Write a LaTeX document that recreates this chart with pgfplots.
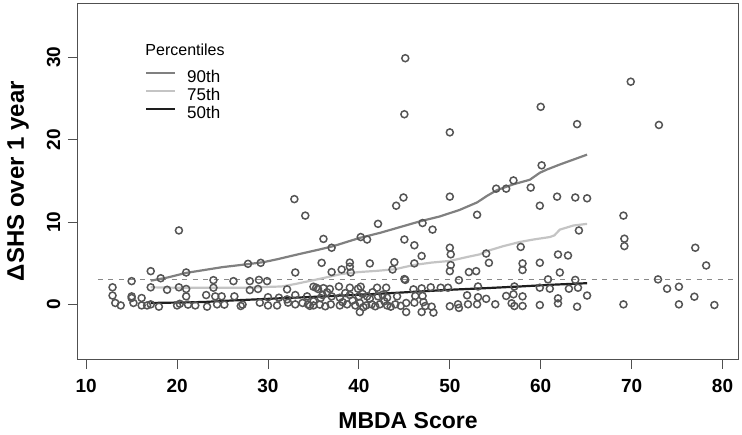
\documentclass[border=0pt]{standalone}
\usepackage{fontspec}
\setmainfont{Liberation Sans}
\usepackage{pgfplots}
\pgfplotsset{compat=1.18}
\definecolor{ptc}{HTML}{555555}
\definecolor{boxc}{HTML}{505050}
\definecolor{p90}{HTML}{808080}
\definecolor{p75}{HTML}{C4C4C4}
\definecolor{p50}{HTML}{1E1E1E}
\definecolor{dsh}{HTML}{888888}
\begin{document}
\begin{tikzpicture}
\useasboundingbox (0,0) rectangle (742pt,434pt);
\begin{axis}[
  at={(78pt,75pt)}, anchor=south west,
  scale only axis, width=660pt, height=356pt,
  xmin=9.1, xmax=81.7, ymin=-6.6, ymax=36.6,
  xtick={10,20,...,80}, ytick={0,10,20,30},
  tick align=outside, major tick length=10pt,
  xtick pos=left, ytick pos=left,
  axis line style={draw=boxc, line width=1pt},
  tick style={draw=boxc, line width=1pt},
  /pgf/number format/assume math mode=true,
  ticklabel style={font=\fontsize{19}{20}\selectfont\bfseries, inner sep=0pt},
  yticklabel style={rotate=90, anchor=south},
  xticklabel style={anchor=north},
  xticklabel shift=10pt, yticklabel shift=7.4pt,
  xlabel={MBDA Score}, ylabel={ΔSHS over 1 year},
  xlabel style={at={(axis description cs:0.5,-0.1966)}, anchor=base, font=\fontsize{23}{24}\selectfont\bfseries},
  ylabel style={at={(axis description cs:-0.0909,0.5)}, anchor=center, font=\fontsize{24}{26}\selectfont\bfseries},
  legend style={draw=none, fill=none, anchor=north west, at={(axis cs:16.45,28.46)},
    font=\fontsize{17}{18}\selectfont, inner sep=0pt, row sep=3pt, column sep=11pt,
    nodes={inner sep=0pt, text height=12pt, text depth=3pt}},
  legend cell align=left,
  legend image code/.code={\draw[#1] (0pt,4.5pt) -- (29pt,4.5pt);},
  clip=false,
]
\addplot[only marks, mark=o, mark size=3.5pt, mark options={line width=1.5pt, draw=ptc}, forget plot] table {
x y
12.9 2.1
12.9 1.1
13.2 0.2
13.8 -0.1
15 2.85
15 1.0
15 0.8
15.2 0.2
16.1 0.8
16.1 -0.1
16.7 -0.1
17.1 4.06
17.1 2.1
17.1 0.03
18.2 3.2
18 -0.25
18.9 1.8
20.2 9.0
20.2 2.1
20 -0.1
20.3 0.1
21 3.9
21 1.9
21 1.0
21.2 0
22 -0.1
23.2 1.16
23.3 -0.25
24 2.97
24 2.05
24.2 1.0
24.9 1.0
24.4 0.03
25.2 0
26.2 2.85
26.3 1.0
27 -0.17
27.2 0
27.8 4.95
28 2.85
28 1.76
29.2 5.07
29 3.0
28.9 1.9
29.1 0.23
29.9 2.85
30 0.9
30 -0.1
31.2 0.84
31 -0.1
32.1 1.85
32.1 0.64
32.2 0.24
32.9 12.8
33 3.9
33 1.16
33 0.03
33.8 0.2
34.1 10.8
34.3 1.0
35 2.17
35.3 2.05
35.5 1.9
35.9 5.07
36.1 7.97
36.1 2.0
36.8 1.9
37 6.9
37 3.95
38.1 4.26
39 5.1
39 4.6
39.1 3.9
39 2.05
39.9 1.93
40.2 2.17
40.2 8.2
40.9 7.9
41.2 5.0
42.1 9.8
42 2.05
43 2.05
43.9 5.15
43.7 4.26
44.1 12.0
44.9 13.0
45 7.9
45 3.1
45.1 3.0
45 23.1
45.1 29.9
37.8 2.2
36 1.16
37 1.0
37.9 0.84
39 1.16
40 1.0
40.9 1.0
41.2 0.7
42.1 1.0
43.1 0.84
44.2 1.0
35 0.4
34.4 0.03
35 -0.1
35.7 0.0
36.9 0.03
37.9 -0.1
38.7 0.03
39.6 -0.1
40.1 0.2
40.8 -0.1
41.4 0.03
42.3 0.03
43.1 -0.1
44 0.03
45.2 0.2
40.1 -0.9
45.2 -0.9
34.6 -0.15
36.3 -0.2
38.2 0.3
39.3 0.5
40.5 -0.3
41.8 -0.2
42.8 0.4
43.5 -0.25
44.6 -0.15
35.8 0.8
38.5 1.4
41.5 1.5
42.6 1.2
40.4 1.3
36.5 1.5
46.1 7.2
46.1 5.0
46.9 5.9
47 9.9
48.1 9.1
50 6.9
50.1 6.1
50.1 4.8
50 4.06
50 13.1
50 20.9
53 10.9
52.1 3.95
52.9 4.06
54 6.2
54.3 5.07
55.1 14.07
56.2 14.07
57 15.07
58.9 14.2
60 24
60.1 16.9
59.9 12.0
61.8 13.1
63.8 13.0
65.1 12.9
64 21.9
64.2 9.0
57.8 7.0
58 5.0
58 4.2
59.9 5.08
61.9 6.08
63 5.96
62.1 3.9
60.8 3.06
63.8 3.0
51 2.97
46 1.85
46.9 1.97
47.9 2.1
49 2.05
49.8 2.05
53.1 2.2
57.1 2.2
59.9 2.05
61 1.93
63.1 1.93
64.1 2.05
65.1 1.1
46.2 1.05
47 1.05
51.9 1.13
53.1 0.9
54 0.7
56.2 1.05
57 1.25
58 1.0
61.9 0.76
46.1 0.24
47.1 0.3
47.3 -0.17
48 -0.25
48.2 -0.97
46.9 -0.9
50 -0.2
50.9 0.04
51 -0.4
52 0.04
53 0.04
55 0.04
56.8 0.16
57.1 -0.17
58 -0.17
59.9 -0.05
61.9 0.15
64 -0.25
69.9 27.05
73 21.8
69.1 10.8
69.2 8.0
69.2 7.1
77 6.9
78.2 4.75
72.9 3.06
73.9 1.93
75.2 2.17
69.1 0.03
75.2 0.03
76.9 0.96
79.1 -0.05
};
\addplot[dsh, line width=1.2pt, dash pattern=on 5pt off 5.5pt, forget plot] coordinates {(11.3,3) (81.3,3)};
\addplot[p90, line width=2.2pt, line join=round] coordinates {
(17.1,2.9)(19,3.3)(21,3.85)(23,4.2)(25,4.55)(27.7,4.9)(29.5,5.15)(31,5.5)(33.3,6.1)(35.7,6.7)(37.2,7.1)(40.1,8.1)(42.3,8.7)(44.5,9.4)(46.7,10.1)(48.9,10.7)(51.1,11.5)(53,12.4)(54.1,13.2)(55.2,13.9)(57,14.6)(58.8,15.15)(59.9,16.0)(60.7,16.4)(62.1,17.0)(63.6,17.6)(65.1,18.2)};
\addlegendentry{90th}
\addplot[p75, line width=2.2pt, line join=round] coordinates {
(17.1,2.1)(20,2.05)(24,2.05)(28,2.05)(30,2.15)(31.5,2.2)(33,2.5)(34.5,2.85)(36,3.2)(38,3.7)(40,3.95)(42,4.1)(44,4.3)(46,4.8)(48,5.1)(50,5.3)(52,5.8)(53.3,6.1)(54.1,6.5)(55.9,7.1)(57.7,7.6)(59.2,7.9)(61,8.2)(61.5,8.4)(62.1,9.1)(63.6,9.6)(65.1,9.8)};
\addlegendentry{75th}
\addplot[p50, line width=2.2pt, line join=round] coordinates {
(17.1,0.2)(20,0.25)(23,0.32)(26,0.5)(29,0.65)(32,0.8)(34.6,0.92)(38,1.1)(42,1.3)(46,1.55)(50,1.8)(54,2.0)(57.7,2.2)(61,2.4)(65.1,2.6)};
\addlegendentry{50th}
\node[anchor=west, inner sep=0pt, font=\fontsize{16}{18}\selectfont] at (axis cs:16.5,30.9) {Percentiles};
\end{axis}
\end{tikzpicture}
\end{document}
